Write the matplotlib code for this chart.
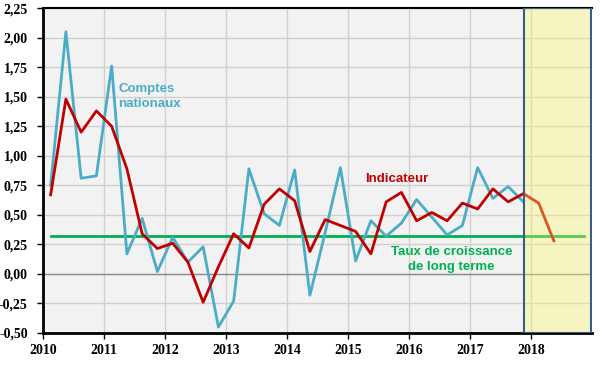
import matplotlib.pyplot as plt
from matplotlib.ticker import FuncFormatter, MultipleLocator

# quarterly growth rates, 2010Q1 onwards
comptes = [0.75, 2.05, 0.81, 0.83, 1.76, 0.17, 0.47, 0.02,
           0.31, 0.10, 0.23, -0.45, -0.23, 0.89, 0.51, 0.41,
           0.88, -0.18, 0.35, 0.90, 0.11, 0.45, 0.32, 0.43,
           0.63, 0.48, 0.33, 0.41, 0.90, 0.64, 0.74, 0.61]
indicateur = [0.67, 1.48, 1.20, 1.38, 1.25, 0.89, 0.34, 0.215,
              0.26, 0.10, -0.24, 0.06, 0.34, 0.22, 0.59, 0.72,
              0.62, 0.19, 0.46, 0.41, 0.36, 0.17, 0.61, 0.69,
              0.45, 0.52, 0.45, 0.60, 0.55, 0.72, 0.61, 0.68,
              0.60, 0.28]
long_terme = 0.32
n_quarters_lt = 36
years = list(range(2010, 2019))


def qpos(n):
    return [2010 + (k + 0.5) / 4 for k in range(n)]


fig = plt.figure(figsize=(6, 3.7), dpi=100)
ax = fig.add_axes([0.0717, 0.1, 0.915, 0.878])
ax.set_facecolor("#F2F2F2")

ax.set_xlim(2010, 2019)
ax.set_ylim(-0.5, 2.25)
ax.yaxis.set_major_locator(MultipleLocator(0.25))
ax.yaxis.set_major_formatter(FuncFormatter(lambda v, p: f"{v:.2f}".replace(".", ",")))
ax.set_xticks(years)
ax.set_xticklabels([str(y) for y in years])
ax.grid(True, color="#D0D0D0", lw=1)
ax.set_axisbelow(True)
ax.axhline(0, color="#8C8C8C", lw=1, zorder=1)

ax.plot(qpos(len(comptes)), comptes, color="#4BACC6", lw=2, zorder=3)
ax.plot(qpos(len(indicateur)), indicateur, color="#C00000", lw=2, zorder=4)
ax.plot(qpos(n_quarters_lt), [long_terme] * n_quarters_lt, color="#00B050", lw=2, zorder=2)

# forecast zone
ax.axvspan(2017.885, 2019, facecolor="#FFFA66", alpha=0.35, zorder=5, lw=0)
ax.axvspan(2017.885, 2018.99, facecolor="none", edgecolor="#385D8A", lw=1.5, zorder=6)

for s in ["left", "bottom", "top"]:
    ax.spines[s].set_color("black")
ax.spines["left"].set_linewidth(2)
ax.spines["bottom"].set_linewidth(2)
ax.spines["top"].set_linewidth(1.5)
ax.spines["right"].set_visible(False)

for lab in ax.get_xticklabels() + ax.get_yticklabels():
    lab.set_fontfamily("Liberation Serif")
    lab.set_fontweight("bold")
    lab.set_fontsize(10)
ax.tick_params(axis="both", length=4, width=1, color="black")
ax.tick_params(axis="y", pad=7)
ax.tick_params(axis="x", pad=4)

lab_font = dict(family="Liberation Sans", weight="bold", size=9.5)
ax.text(2011.23, 1.50, "Comptes\nnationaux", color="#4BACC6", ha="left", va="center",
        linespacing=1.3, **lab_font)
ax.text(2015.80, 0.80, "Indicateur", color="#C00000", ha="center", va="center", **lab_font)
ax.text(2016.70, 0.12, "Taux de croissance\nde long terme", color="#00B050", ha="center",
        va="center", linespacing=1.3, **lab_font)

fig.savefig("out.png", dpi=100)
